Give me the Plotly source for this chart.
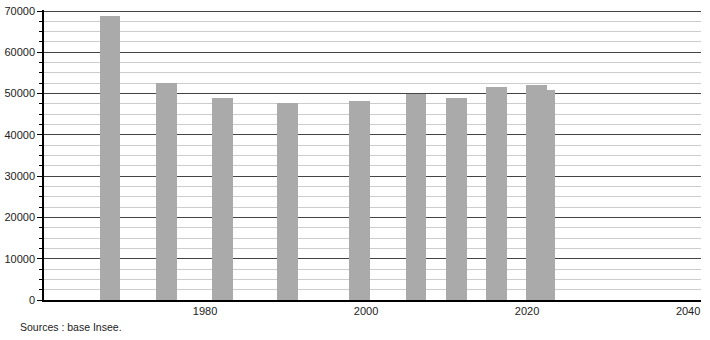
import plotly.graph_objects as go

years = [1968, 1975, 1982, 1990, 1999, 2006, 2011, 2016, 2021, 2022]
population = [68720, 52450, 48870, 47660, 48150, 50000, 48870, 51580, 52020, 50810]
x_tick_vals = [1980, 2000, 2020, 2040]
y_tick_vals = [0, 10000, 20000, 30000, 40000, 50000, 60000, 70000]
source_text = "Sources : base Insee."

fig = go.Figure()
fig.add_trace(go.Bar(
    x=years, y=population,
    width=2.6, offset=-1.1,
    marker=dict(color="#aaaaaa", line=dict(width=0)),
    hoverinfo="x+y",
))

font = dict(family="Liberation Sans, Arial, sans-serif", size=11, color="#222222")

fig.update_layout(
    width=710, height=340,
    margin=dict(l=44, r=9, t=10, b=40, autoexpand=False),
    paper_bgcolor="white", plot_bgcolor="white",
    showlegend=False,
    bargap=0,
    font=font,
    xaxis=dict(
        range=[1960, 2041.6],
        tickvals=x_tick_vals,
        ticks="", showgrid=False, zeroline=False,
        showline=True, linecolor="#000000", linewidth=1.5,
        tickfont=font, automargin=False,
    ),
    yaxis=dict(
        range=[0, 70250],
        tickvals=y_tick_vals,
        tickformat="d",
        ticks="outside", ticklen=5, tickcolor="#000000", tickwidth=1,
        showgrid=True, gridcolor="#444444", gridwidth=1,
        zeroline=False,
        showline=True, linecolor="#000000", linewidth=1.5,
        tickfont=font, automargin=False,
        minor=dict(dtick=2500, ticks="outside", ticklen=3, tickcolor="#000000",
                   showgrid=True, gridcolor="#cccccc", gridwidth=1),
    ),
    annotations=[dict(
        text=source_text, xref="paper", yref="paper",
        x=0, y=-27/290, xanchor="left", yanchor="middle",
        showarrow=False, font=dict(family="Liberation Sans, Arial, sans-serif", size=10.5, color="#222222"),
        xshift=-26,
    )],
)

fig.write_html("out.html")
